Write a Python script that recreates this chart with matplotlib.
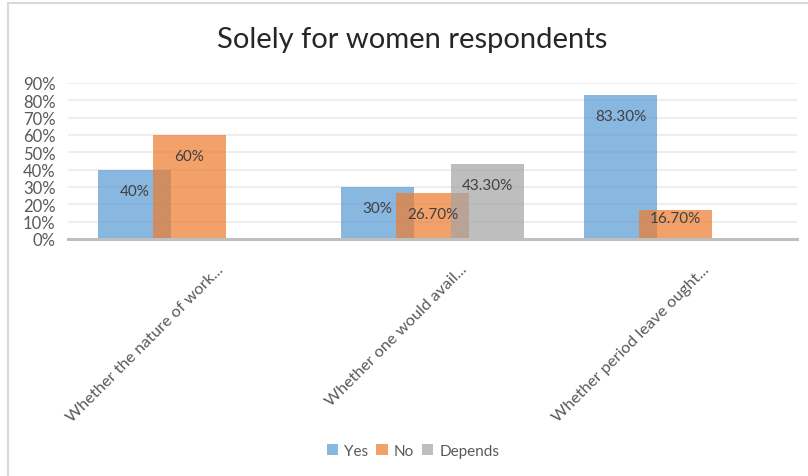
import matplotlib
matplotlib.use("Agg")
import matplotlib.pyplot as plt
import matplotlib.transforms as mtransforms
from matplotlib.lines import Line2D
from matplotlib.patches import Patch
import numpy as np

plt.rcParams['font.family'] = ['Lato', 'DejaVu Sans']

categories = ["Whether the nature of work...",
              "Whether one would avail...",
              "Whether period leave ought..."]
series_names = ["Yes", "No", "Depends"]
yes_vals = [0.40, 0.30, 0.833]
no_vals = [0.60, 0.267, 0.167]
depends_vals = [None, 0.433, None]
yes_labels = ["40%", "30%", "83.30%"]
no_labels = ["60%", "26.70%", "16.70%"]
depends_labels = [None, "43.30%", None]
y_ticks = [0, 0.1, 0.2, 0.3, 0.4, 0.5, 0.6, 0.7, 0.8, 0.9]
y_tick_labels = ["0%", "10%", "20%", "30%", "40%", "50%", "60%", "70%", "80%", "90%"]

colors = ["#5B9BD5", "#ED7D31", "#A5A5A5"]
alpha = 0.72
text_color = "#404040"

fig = plt.figure(figsize=(8.08, 4.77), dpi=100)
ax = fig.add_axes([68/808, 1-240/477, (797-68)/808, (240-84)/477])

x = np.arange(len(categories))
bar_w = 0.30
step = 0.226
all_vals = [yes_vals, no_vals, depends_vals]
all_labels = [yes_labels, no_labels, depends_labels]

for s, (vals, labs) in enumerate(zip(all_vals, all_labels)):
    for i, (v, lab) in enumerate(zip(vals, labs)):
        if v is None:
            continue
        xc = x[i] + (s - 1) * step
        ax.bar(xc, v, width=bar_w, color=colors[s], alpha=alpha,
               linewidth=0, zorder=2 + s)
        # label inside the bar end, kept clear of the baseline
        ly = max(v - 0.124, 0.121)
        ax.text(xc, ly, lab, ha="center", va="center", fontsize=11,
                color=text_color, zorder=10)

ax.set_xlim(-0.5, 2.5)
ax.set_ylim(0, 0.9)
ax.set_yticks(y_ticks)
ax.set_yticklabels(y_tick_labels, fontsize=12, color="#595959")
ax.yaxis.grid(True, color="#EEEEEE", linewidth=1.5, zorder=0)
ax.set_axisbelow(True)
ax.tick_params(axis="y", length=0, pad=9)
ax.tick_params(axis="x", length=0)
for side in ["top", "right", "left"]:
    ax.spines[side].set_visible(False)
ax.spines["bottom"].set_color("#BFBFBF")
ax.spines["bottom"].set_linewidth(2.2)
ax.spines["bottom"].set_zorder(20)

ax.set_xticks(x)
ax.set_xticklabels(categories, rotation=45, ha="right", va="center",
                   rotation_mode="anchor", fontsize=11.8, color="#595959")
offset = mtransforms.ScaledTranslation(32/100, -23/100, fig.dpi_scale_trans)
for lbl in ax.get_xticklabels():
    lbl.set_transform(lbl.get_transform() + offset)

fig.text(412/808, 1-40/477, "Solely for women respondents", ha="center",
         va="center", fontsize=21, color="#262626")

handles = [Patch(facecolor=c, alpha=alpha, edgecolor="none") for c in colors]
leg = fig.legend(handles, series_names, loc="center", bbox_to_anchor=(413/808, 1-452/477),
                 ncol=3, frameon=False, fontsize=11, handlelength=0.75,
                 handleheight=0.75, handletextpad=0.4, columnspacing=0.5)
for t in leg.get_texts():
    t.set_color("#595959")

# chart area border (left and top edges)
fig.add_artist(Line2D([8/808, 8/808], [0, 1-4/477], color="#D9D9D9", linewidth=1.5,
                      transform=fig.transFigure))
fig.add_artist(Line2D([8/808, 1], [1-4/477, 1-4/477], color="#D9D9D9", linewidth=1.5,
                      transform=fig.transFigure))

fig.savefig("out.png", dpi=100)
